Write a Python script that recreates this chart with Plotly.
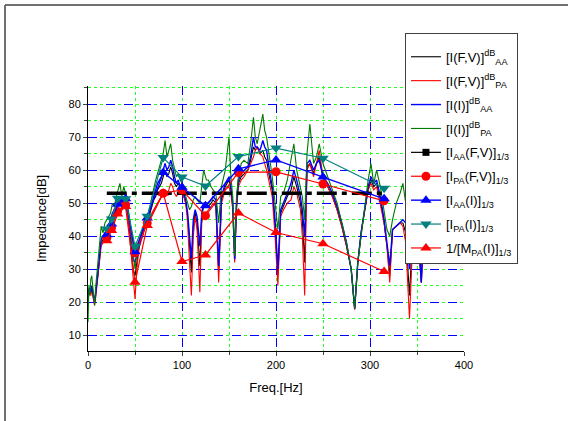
import plotly.graph_objects as go

# ---------------- dense spectra ----------------
freq = [0, 1, 2, 3, 4, 5, 6, 7, 8, 9, 10, 12, 14, 16, 18, 20, 22, 24, 26, 28, 30, 32, 34, 36, 38, 40, 42, 44, 46, 48, 50, 52, 54,
        56, 58, 60, 62, 64, 66, 68, 70, 72, 74, 76, 78, 80, 82, 84, 86, 88, 90, 92, 94, 96, 98, 100,
        102, 104, 106, 108, 110, 112, 114, 116, 119, 121, 123, 126, 128, 131, 133, 136, 139, 142, 146, 150, 152, 154, 156, 158, 160,
        163, 166, 170, 173, 176, 178, 180, 183, 186, 188, 190, 193, 196, 199, 202, 205, 208, 212, 216, 219, 222, 226, 228, 230.5,
        233, 236, 240, 243, 246, 250, 255, 260, 265, 270, 275, 280, 283.7, 287, 291, 295, 298, 301, 304, 307, 311, 315, 318, 321,
        324, 328, 332, 335, 338, 342, 346, 350, 354.6, 358, 365, 372, 380, 390, 400]

i_fv_aa = [21, 24, 23, 23, 24, 22, 21, 20, 22, 24, 27, 32, 38, 39, 40, 41, 42, 44, 46, 47, 48, 50, 51, 49, 51, 50, 47, 43, 36, 30, 28, 33, 36,
           39, 40, 42, 44, 45, 47, 49, 51, 52, 54, 55, 56, 58, 60, 58, 59, 61, 59, 56, 55, 56, 55, 54,
           52, 50, 46, 37, 29, 43, 47, 44, 31, 46, 49, 49, 49, 50, 51, 50, 29, 51, 55, 57, 54, 49, 33, 49, 56,
           58, 59, 60, 63, 67, 66, 67, 65, 66, 64, 63, 58, 54, 43, 28, 47, 49, 52, 54, 58, 55, 50, 45, 32,
           61, 62, 59, 62, 64, 58, 55, 52, 48, 43, 37, 30, 18, 32, 42, 49, 54, 57, 55, 56, 51, 44, 37, 28,
           42, 43, 44, 44, 41, 22, 44, 45, 26, 49, 54, 57, 56, 54, 56]

i_fv_pa = [22, 23, 24, 22, 24, 22, 20, 19, 21, 24, 26, 31, 37, 38, 39, 40, 41, 43, 45, 46, 48, 49, 51, 48, 50, 49, 46, 41, 34, 27, 21, 30, 36,
           38, 40, 42, 43, 44, 45, 47, 48, 49, 50, 51, 52, 53, 54, 53, 54, 56, 55, 53, 52, 53, 54, 53,
           52, 50, 44, 32, 22, 40, 46, 42, 23, 44, 47, 47, 48, 49, 50, 49, 26, 50, 54, 55, 53, 48, 32, 48, 55,
           57, 58, 60, 62, 64, 66, 67, 65, 64, 62, 60, 56, 52, 40, 25, 46, 48, 50, 51, 55, 53, 48, 40, 22,
           60, 62, 58, 62, 66, 58, 55, 52, 48, 43, 37, 30, 17.7, 32, 42, 49, 54, 56, 54, 55, 50, 44, 37, 26,
           42, 43, 44, 43, 38, 15, 42, 44, 26, 48, 53, 56, 55, 53, 55]

i_i_aa = [20, 24, 24, 23, 25, 23, 21, 20, 22, 25, 27, 33, 39, 40, 41, 42, 43, 45, 47, 48, 49, 51, 52, 50, 52, 51, 48, 44, 38, 33, 32, 35, 37,
          39, 41, 43, 45, 46, 48, 50, 52, 54, 56, 57, 58, 60, 62, 60, 61, 63, 61, 58, 56, 57, 55, 54,
          53, 51, 47, 40, 33, 45, 48, 46, 37, 47, 50, 50, 50, 51, 52, 51, 31, 52, 56, 58, 55, 50, 33, 50, 57,
          59, 60, 61, 64, 70, 67, 67, 66, 69, 67, 66, 60, 55, 45, 30, 48, 50, 53, 56, 60, 57, 52, 48, 40,
          62, 63, 60, 62, 63, 58, 56, 53, 49, 44, 38, 30, 18, 32, 42, 50, 55, 58, 56, 57, 52, 45, 38, 31,
          42, 43, 44, 45, 44, 30, 46, 47, 26, 50, 55, 58, 57, 55, 57]

i_i_pa = [14, 25, 22, 27, 28, 24, 22, 19, 24, 27, 29, 36, 43, 41, 44, 45, 46, 47, 50, 49, 52, 54, 56, 52, 55, 53, 50, 46, 40, 34, 30, 35, 38,
          40, 42, 44, 46, 47, 49, 52, 55, 57, 59, 61, 63, 65, 69, 64, 66, 68, 63, 60, 58, 59, 57, 56,
          55, 52, 50, 48, 49, 51, 52, 51, 50, 55, 60, 57, 57, 55, 54, 53, 44, 55, 60, 70, 58, 52, 34, 52, 58,
          62, 63, 62, 68, 76, 70, 68, 72, 77, 72, 70, 64, 58, 50, 42, 52, 53, 57, 64, 68, 60, 55, 52, 45,
          65, 74, 62, 64, 68, 62, 58, 54, 50, 44, 38, 30, 18, 32, 42, 50, 57, 62, 56, 60, 55, 48, 42, 40,
          45, 50, 53, 56, 50, 45, 52, 55, 48, 55, 60, 62, 60, 58, 60]

# ---------------- 1/3 octave band values ----------------
f_third = [20, 25, 31.5, 40, 50, 63, 80, 100, 125, 160, 200, 250, 315]
aa_fv_third = [53, 53, 53, 53, 53, 53, 53, 53, 53, 53, 53, 53, 53]
pa_fv_third = [39.5, 42.5, 47.5, 49.5, 35, 44, 53, 54, 46.2, 59.3, 59.5, 55.8, 50.7]
aa_i_third = [40.4, 43.7, 49.7, 51.3, 35.3, 45.5, 59.3, 54.8, 49.2, 60.4, 63.1, 57.9, 51.3]
pa_i_third = [42.2, 45.2, 51.5, 51.3, 36.9, 46, 63.8, 57.9, 55.2, 64.1, 66.7, 63.6, 54.5]
inv_m_third = [38.6, 41.7, 46.7, 49, 26, 43.2, 53, 32.3, 34.3, 47, 41.1, 37.7, 29.3]

x_ticks = [0, 100, 200, 300, 400]
y_ticks = [10, 20, 30, 40, 50, 60, 70, 80]

fig = go.Figure()

lw = 1.1
fig.add_trace(go.Scatter(x=freq, y=i_fv_aa, mode="lines", line=dict(color="black", width=lw),
                         name="[I(F,V)]<sup>dB</sup><sub>AA</sub>", legendgroup="g1"))
fig.add_trace(go.Scatter(x=freq, y=i_fv_pa, mode="lines", line=dict(color="#ff0000", width=lw),
                         name="[I(F,V)]<sup>dB</sup><sub>PA</sub>", legendgroup="g2"))
fig.add_trace(go.Scatter(x=freq, y=i_i_aa, mode="lines", line=dict(color="#0000ff", width=1.4),
                         name="[I(I)]<sup>dB</sup><sub>AA</sub>", legendgroup="g3"))
fig.add_trace(go.Scatter(x=freq, y=i_i_pa, mode="lines", line=dict(color="#007a00", width=lw),
                         name="[I(I)]<sup>dB</sup><sub>PA</sub>", legendgroup="g4"))

# black 1/3 octave line (drawn as thick dash-dot) + legend entry
fig.add_trace(go.Scatter(x=f_third, y=aa_fv_third, mode="lines",
                         line=dict(color="black", width=3.5, dash="20px,5px,5px,5px"),
                         showlegend=False, hoverinfo="skip", legendgroup="g5"))
fig.add_trace(go.Scatter(x=[None], y=[None], mode="lines+markers",
                         line=dict(color="black", width=1.2),
                         marker=dict(symbol="square", size=7, color="black"),
                         name="[I<sub>AA</sub>(F,V)]<sub>1/3</sub>", legendgroup="g5"))
fig.add_trace(go.Scatter(x=f_third, y=pa_fv_third, mode="lines+markers",
                         line=dict(color="#ff0000", width=1.2),
                         marker=dict(symbol="circle", size=9, color="#ff0000"),
                         name="[I<sub>PA</sub>(F,V)]<sub>1/3</sub>", legendgroup="g6"))
fig.add_trace(go.Scatter(x=f_third, y=aa_i_third, mode="lines+markers",
                         line=dict(color="#0000ff", width=1.4),
                         marker=dict(symbol="triangle-up", size=10, color="#0000ff"),
                         name="[I<sub>AA</sub>(I)]<sub>1/3</sub>", legendgroup="g7"))
fig.add_trace(go.Scatter(x=f_third, y=pa_i_third, mode="lines+markers",
                         line=dict(color="#008080", width=1.2),
                         marker=dict(symbol="triangle-down", size=10, color="#008080"),
                         name="[I<sub>PA</sub>(I)]<sub>1/3</sub>", legendgroup="g8"))
fig.add_trace(go.Scatter(x=f_third, y=inv_m_third, mode="lines+markers",
                         line=dict(color="#ff0000", width=1.2),
                         marker=dict(symbol="triangle-up", size=10, color="#ff0000"),
                         name="1/[M<sub>PA</sub>(I)]<sub>1/3</sub>", legendgroup="g9"))

font = "Liberation Sans, Arial, sans-serif"
fig.update_layout(
    width=568, height=421,
    margin=dict(l=88, r=104, t=86, b=70, autoexpand=False),
    paper_bgcolor="white", plot_bgcolor="white",
    font=dict(family=font, size=11, color="black"),
    showlegend=True,
    legend=dict(x=0.843, y=1.2, xanchor="left", yanchor="top",
                bgcolor="white", bordercolor="#404040", borderwidth=1,
                font=dict(family=font, size=13, color="black"),
                title=dict(text=" ", font=dict(size=6)),
                itemwidth=30, tracegroupgap=4, groupclick="toggleitem",
                maxheight=320, entrywidth=105, entrywidthmode="pixels"),
    xaxis=dict(range=[0, 400], tickvals=x_ticks, ticks="outside", ticklen=4,
               showline=True, linecolor="black", linewidth=1, automargin=False,
               showgrid=True, gridcolor="#0000ff", griddash="dash", gridwidth=1,
               zeroline=False,
               minor=dict(dtick=50, ticks="outside", ticklen=3, showgrid=True,
                          gridcolor="#22ff22", griddash="dot", gridwidth=1),
               title=dict(text="Freq.[Hz]", font=dict(size=13), standoff=12),
               tickfont=dict(size=11)),
    yaxis=dict(range=[5.2, 85.5], tickvals=y_ticks, ticks="outside", ticklen=4,
               showline=True, linecolor="black", linewidth=1, automargin=False,
               showgrid=True, gridcolor="#0000ff", griddash="dash", gridwidth=1,
               zeroline=False,
               minor=dict(dtick=5, tick0=5, ticks="outside", ticklen=3, showgrid=True,
                          gridcolor="#22ff22", griddash="dot", gridwidth=1),
               title=dict(text="Impedance[dB]", font=dict(size=13), standoff=18),
               tickfont=dict(size=11)),
    shapes=[
        dict(type="line", xref="paper", yref="paper", x0=-0.2207, x1=1.28, y0=1.3057, y1=1.3057,
             line=dict(color="#707070", width=2)),
        dict(type="line", xref="paper", yref="paper", x0=-0.2207, x1=-0.2207, y0=1.3057, y1=-0.27,
             line=dict(color="#707070", width=2)),
    ],
)

fig.write_html("out.html", config={"displayModeBar": False},
               post_script="document.body.style.margin='0px';")
